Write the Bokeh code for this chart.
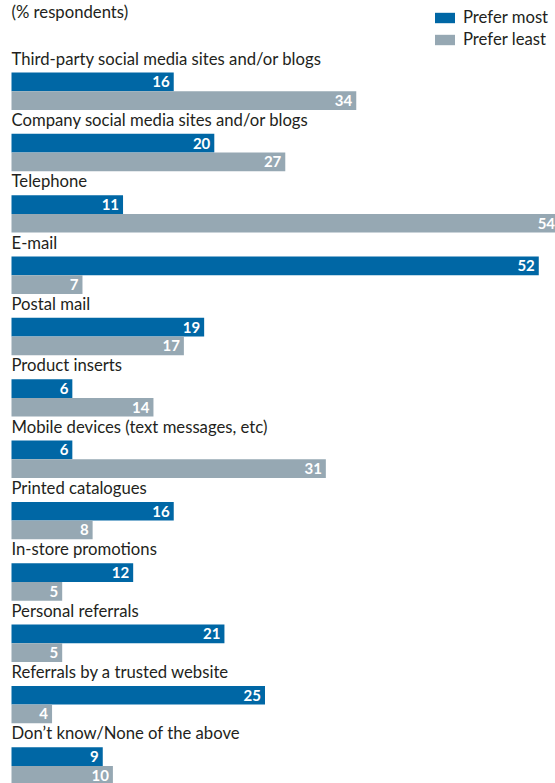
from bokeh.plotting import figure
from bokeh.models import Range1d, ColumnDataSource, Legend, LegendItem, Label
from bokeh.core.properties import value
from bokeh.embed import file_html
from bokeh.resources import INLINE

categories = [
    "Third-party social media sites and/or blogs",
    "Company social media sites and/or blogs",
    "Telephone",
    "E-mail",
    "Postal mail",
    "Product inserts",
    "Mobile devices (text messages, etc)",
    "Printed catalogues",
    "In-store promotions",
    "Personal referrals",
    "Referrals by a trusted website",
    "Don\u2019t know/None of the above",
]
prefer_most = [16, 20, 11, 52, 19, 6, 6, 16, 12, 21, 25, 9]
prefer_least = [34, 27, 54, 7, 17, 14, 31, 8, 5, 5, 4, 10]

BLUE = "#0067a5"
GREY = "#96a8b3"
TEXT = "#231f20"
FONT = "Lato"

W, H = 555, 783
PX_PER_UNIT_X = 10.14
LEFT_PX = 11
GROUP_PX = 61.34
TOP_PX = 72
BAR_H = 0.305

idx = list(range(len(categories)))
most_src = ColumnDataSource(dict(
    y=[i + BAR_H / 2 for i in idx], v=prefer_most,
    lab=[str(v) for v in prefer_most]))
least_src = ColumnDataSource(dict(
    y=[i + BAR_H * 1.5 for i in idx], v=prefer_least,
    lab=[str(v) for v in prefer_least]))
cat_src = ColumnDataSource(dict(y=[i - 0.225 for i in idx], x=[0] * len(idx), t=categories))

p = figure(width=W, height=H, output_backend="svg", toolbar_location=None,
           x_range=Range1d(-LEFT_PX / PX_PER_UNIT_X, (W - LEFT_PX) / PX_PER_UNIT_X),
           y_range=Range1d((H - TOP_PX) / GROUP_PX, -TOP_PX / GROUP_PX),
           min_border=0, x_axis_location=None, y_axis_location=None)
p.grid.visible = False
p.outline_line_color = None
p.background_fill_color = "white"
p.border_fill_color = "white"

r_most = p.hbar(y="y", left=0, right="v", height=BAR_H, source=most_src,
                fill_color=BLUE, line_color=None)
r_least = p.hbar(y="y", left=0, right="v", height=BAR_H, source=least_src,
                 fill_color=GREY, line_color=None)

for src in (most_src, least_src):
    p.text(x="v", y="y", text="lab", source=src, x_offset=-4,
           text_align="right", text_baseline="middle",
           text_font=value(FONT), text_font_style="bold",
           text_font_size="15px", text_color="white")

p.text(x="x", y="y", text="t", source=cat_src, text_align="left",
       text_baseline="alphabetic", text_font=value(FONT),
       text_font_size="16.7px", text_color=TEXT)

p.add_layout(Label(x=LEFT_PX, y=H - 1, x_units="screen", y_units="screen",
                   text="(% respondents)", text_font=FONT, text_font_size="16.7px",
                   text_color=TEXT, text_baseline="top"))

legend = Legend(items=[LegendItem(label="Prefer most", renderers=[r_most]),
                       LegendItem(label="Prefer least", renderers=[r_least])],
                location=(432, H - 49), orientation="vertical",
                padding=0, margin=0, spacing=2, glyph_width=25, glyph_height=13,
                label_height=20, label_standoff=6, border_line_color=None,
                background_fill_alpha=0, label_text_font=FONT,
                label_text_font_size="16.7px", label_text_color=TEXT)
p.add_layout(legend, "center")

open("out.html", "w").write(file_html(p, INLINE))
